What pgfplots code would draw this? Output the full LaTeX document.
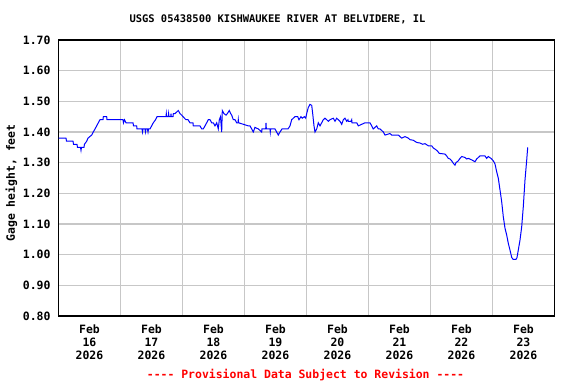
\documentclass[border=0pt]{standalone}
\usepackage{pgfplots}
\pgfplotsset{compat=1.18}
\usepackage{fontspec}
\setmainfont{DejaVu Sans Mono}[Ligatures=TeXOff]
\newcommand\lab{\fontsize{11.5}{13}\selectfont\bfseries}
\begin{document}
\begin{tikzpicture}
\useasboundingbox (0,0) rectangle (576bp,384bp);
\begin{axis}[
  at={(58.5bp,68bp)}, anchor=south west,
  width=496bp, height=276bp, scale only axis,
  xmin=0, xmax=8, ymin=0.8, ymax=1.7,
  xtick={0.5,1.5,2.5,3.5,4.5,5.5,6.5,7.5},
  xticklabels={{Feb\\16\\2026},{Feb\\17\\2026},{Feb\\18\\2026},{Feb\\19\\2026},{Feb\\20\\2026},{Feb\\21\\2026},{Feb\\22\\2026},{Feb\\23\\2026}},
  minor xtick={1,2,3,4,5,6,7},
  xminorgrids=true, ymajorgrids=true,
  ytick={0.8,0.9,1.0,1.1,1.2,1.3,1.4,1.5,1.6,1.7},
  yticklabels={0.80,0.90,1.00,1.10,1.20,1.30,1.40,1.50,1.60,1.70},
  major tick length=0pt, minor tick length=0pt,
  grid style={draw=black!22, line width=1.2bp},
  minor grid style={draw=black!22, line width=1.2bp},
  axis line style={line width=1.2bp, black},
  tick label style={font=\lab, inner sep=0pt},
  xticklabel style={align=center, anchor=north, yshift=-9bp},
  yticklabel style={anchor=east, xshift=-7.8bp},
]
\addplot[blue, line width=1bp] coordinates {
(0,1.38) (0.121,1.38) (0.129,1.37) (0.234,1.37) (0.242,1.36) (0.298,1.36)
(0.306,1.35) (0.355,1.35) (0.363,1.34) (0.371,1.35) (0.411,1.35) (0.419,1.36)
(0.455,1.37) (0.476,1.38) (0.535,1.39) (0.561,1.40) (0.589,1.41) (0.616,1.42)
(0.642,1.43) (0.669,1.44) (0.718,1.44) (0.723,1.45) (0.777,1.45) (0.782,1.44)
(1.040,1.44) (1.048,1.43) (1.065,1.44) (1.089,1.43) (1.202,1.43) (1.210,1.42)
(1.261,1.42) (1.266,1.41) (1.347,1.41) (1.355,1.40) (1.363,1.41) (1.395,1.41)
(1.403,1.40) (1.411,1.41) (1.435,1.41) (1.444,1.40) (1.452,1.41) (1.476,1.41)
(1.503,1.42) (1.529,1.43) (1.565,1.44) (1.589,1.45) (1.734,1.45) (1.739,1.46)
(1.744,1.45) (1.771,1.45) (1.776,1.46) (1.782,1.45) (1.810,1.45) (1.815,1.46)
(1.819,1.45) (1.847,1.45) (1.852,1.46) (1.879,1.46) (1.932,1.47) (1.960,1.46)
(1.987,1.455) (2.008,1.45) (2.056,1.44) (2.089,1.44) (2.121,1.43) (2.169,1.43)
(2.174,1.42) (2.282,1.42) (2.310,1.41) (2.335,1.41) (2.363,1.42) (2.390,1.43)
(2.416,1.44) (2.444,1.44) (2.471,1.43) (2.497,1.43) (2.524,1.42) (2.552,1.43)
(2.577,1.41) (2.594,1.44) (2.613,1.45) (2.632,1.40) (2.642,1.47) (2.669,1.46)
(2.702,1.455) (2.723,1.46) (2.755,1.47) (2.777,1.46) (2.794,1.455) (2.819,1.44)
(2.847,1.44) (2.874,1.43) (2.895,1.43) (2.900,1.44) (2.905,1.43) (3.061,1.42)
(3.089,1.42) (3.116,1.41) (3.142,1.40) (3.169,1.415) (3.223,1.41) (3.277,1.40)
(3.282,1.41) (3.342,1.41) (3.347,1.43) (3.352,1.41) (3.411,1.41) (3.416,1.40)
(3.421,1.41) (3.492,1.41) (3.545,1.39) (3.573,1.40) (3.605,1.41) (3.702,1.41)
(3.734,1.42) (3.761,1.44) (3.787,1.445) (3.815,1.45) (3.858,1.45) (3.879,1.44)
(3.911,1.45) (3.932,1.445) (3.965,1.45) (3.987,1.445) (4.003,1.46) (4.029,1.48)
(4.056,1.49) (4.084,1.487) (4.100,1.46) (4.121,1.42) (4.137,1.40) (4.165,1.41)
(4.190,1.43) (4.218,1.42) (4.245,1.43) (4.271,1.44) (4.298,1.445) (4.326,1.44)
(4.352,1.435) (4.379,1.44) (4.432,1.445) (4.460,1.435) (4.487,1.445) (4.513,1.44)
(4.540,1.435) (4.568,1.425) (4.594,1.44) (4.621,1.445) (4.648,1.435) (4.669,1.44)
(4.674,1.435) (4.718,1.435) (4.729,1.44) (4.734,1.43) (4.810,1.43) (4.835,1.42)
(4.890,1.425) (4.944,1.43) (5.024,1.43) (5.052,1.42) (5.077,1.41) (5.132,1.42)
(5.158,1.41) (5.185,1.41) (5.213,1.405) (5.239,1.40) (5.266,1.39) (5.347,1.395)
(5.374,1.39) (5.481,1.39) (5.508,1.385) (5.535,1.38) (5.589,1.385) (5.642,1.38)
(5.669,1.375) (5.723,1.373) (5.777,1.366) (5.831,1.364) (5.874,1.36) (5.911,1.362)
(5.965,1.355) (6.019,1.355) (6.045,1.348) (6.089,1.342) (6.116,1.337) (6.142,1.33)
(6.153,1.33) (6.234,1.328) (6.261,1.322) (6.287,1.314) (6.315,1.312) (6.342,1.306)
(6.368,1.298) (6.395,1.292) (6.411,1.30) (6.448,1.306) (6.476,1.314) (6.503,1.32)
(6.556,1.317) (6.584,1.312) (6.610,1.314) (6.665,1.309) (6.718,1.303) (6.745,1.312)
(6.798,1.322) (6.879,1.322) (6.906,1.314) (6.932,1.32) (6.976,1.314) (7.013,1.306)
(7.040,1.296) (7.068,1.27) (7.094,1.249) (7.121,1.211) (7.148,1.173) (7.174,1.124)
(7.202,1.086) (7.229,1.064) (7.255,1.037) (7.282,1.015) (7.310,0.991) (7.331,0.985)
(7.379,0.985) (7.395,0.99) (7.416,1.015) (7.444,1.048) (7.471,1.091) (7.497,1.157)
(7.524,1.243) (7.552,1.309) (7.568,1.35)
};
\end{axis}
\node[font=\fontsize{10.5}{12}\selectfont\bfseries] at (277.5bp,365bp) {USGS 05438500 KISHWAUKEE RIVER AT BELVIDERE, IL};
\node[rotate=90, font=\lab] at (11.5bp,201bp) {Gage height, feet};
\node[text=red, font=\lab] at (305.5bp,9bp) {---- Provisional Data Subject to Revision ----};
\end{tikzpicture}
\end{document}
